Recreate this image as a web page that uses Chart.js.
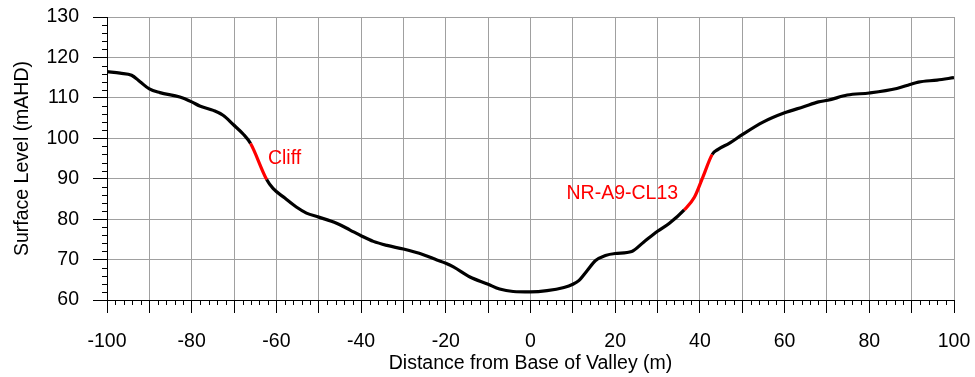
<!DOCTYPE html>
<html>
<head>
<meta charset="utf-8">
<title>Valley Cross Section</title>
<script src="https://cdn.jsdelivr.net/npm/chart.js@4/dist/chart.umd.min.js"></script>
<style>
    html, body { margin: 0; padding: 0; background: #ffffff; }
    #wrap { width: 975px; height: 377px; }
</style>
</head>
<body>
<div id="wrap"><canvas id="section"></canvas></div>
<script>
// Profil en travers : distance depuis le fond de la vallée (m) / niveau (mAHD)
const distances = [
    -100, -96.9, -94.2, -92.2, -90, -87.5, -82.8, -80, -78.1, -74.9,
    -72.6, -70.2, -67.8, -66.1, -62.3, -60.8, -58.0, -55.3, -52.9, -50,
    -45.8, -42.6, -40, -37.1, -33.9, -30, -25.3, -22.1, -20, -18.2,
    -14.3, -10, -7.3, -4.1, 0, 3.9, 7.9, 10, 11.4, 13.4,
    15.3, 17.7, 20, 23.9, 26.7, 30, 32.8, 36.3, 38.7, 40.7,
    42.9, 44.2, 47.0, 50, 54.9, 60, 64.5, 68, 70.2, 74.8,
    80, 86.5, 89.6, 91.6, 96, 100
];
const levels = [
    116.5, 116.1, 115.6, 114.0, 112.2, 111.3, 110.2, 109.0, 108.0, 106.9,
    105.7, 103.4, 101.0, 98.7, 89.8, 87.6, 85.2, 83.0, 81.5, 80.5,
    79.0, 77.3, 75.9, 74.5, 73.5, 72.6, 71.2, 69.9, 69.1, 68.2,
    65.7, 63.9, 62.7, 62.1, 62.0, 62.3, 63.1, 63.9, 64.8, 67.3,
    69.7, 71.0, 71.5, 72.0, 74.3, 77.0, 79.0, 82.3, 85.4, 90.4,
    96.0, 97.2, 98.8, 100.9, 104.0, 106.3, 107.8, 109.0, 109.4, 110.7,
    111.2, 112.3, 113.3, 113.9, 114.4, 115.0
];

// Tronçons en rouge (falaises)
const cliffRanges = [[-66.1, -62.3], [36.3, 42.9]];
const cliffLabels = ['Cliff', 'NR-A9-CL13'];
const cliffLabelX = [-62.0, 8.5];
const cliffLabelY = [94.9, 86.3];

const FONT = "'Liberation Sans', Arial, sans-serif";

// Petites graduations tous les 2 unités, vers l'extérieur
const minorTicks = {
    id: 'minorTicks',
    afterDraw(chart) {
        const ctx = chart.ctx;
        const x = chart.scales.x;
        const y = chart.scales.y;
        ctx.save();
        ctx.strokeStyle = '#000000';
        ctx.lineWidth = 1;
        ctx.beginPath();
        for (let v = x.min; v <= x.max; v += 2) {
            if (v % 10 === 0) continue;
            const px = Math.round(x.getPixelForValue(v)) + 0.5;
            ctx.moveTo(px, y.bottom);
            ctx.lineTo(px, y.bottom + 5);
        }
        for (let v = y.min; v <= y.max; v += 2) {
            if (v % 10 === 0) continue;
            const py = Math.round(y.getPixelForValue(v)) + 0.5;
            ctx.moveTo(x.left, py);
            ctx.lineTo(x.left - 5, py);
        }
        ctx.stroke();
        ctx.restore();
    }
};

// Étiquettes des falaises
const cliffText = {
    id: 'cliffText',
    afterDatasetsDraw(chart) {
        const ctx = chart.ctx;
        ctx.save();
        ctx.fillStyle = '#ff0000';
        ctx.font = '19.5px ' + FONT;
        ctx.textAlign = 'left';
        ctx.textBaseline = 'middle';
        cliffLabels.forEach((txt, i) => {
            ctx.fillText(txt,
                chart.scales.x.getPixelForValue(cliffLabelX[i]),
                chart.scales.y.getPixelForValue(cliffLabelY[i]));
        });
        ctx.restore();
    }
};

const inCliff = (a, b) => cliffRanges.some(r => a >= r[0] - 1e-6 && b <= r[1] + 1e-6);

new Chart(document.getElementById('section'), {
    type: 'line',
    data: {
        datasets: [{
            data: distances.map((d, i) => ({ x: d, y: levels[i] })),
            borderColor: '#000000',
            borderWidth: 3.2,
            pointRadius: 0,
            cubicInterpolationMode: 'monotone',
            segment: {
                borderColor: c => inCliff(c.p0.parsed.x, c.p1.parsed.x) ? '#ff0000' : '#000000'
            }
        }]
    },
    options: {
        responsive: true,
        maintainAspectRatio: false,
        animation: false,
        layout: { padding: { left: 0, right: 21, top: 17, bottom: 0 } },
        plugins: {
            legend: { display: false },
            tooltip: { enabled: false }
        },
        scales: {
            x: {
                type: 'linear',
                min: -100,
                max: 100,
                afterFit: s => {
                    s.height = 77;
                    s.paddingLeft = 0;
                    s.paddingRight = 0;
                },
                border: { color: '#000000', width: 1 },
                grid: {
                    color: '#a0a0a0',
                    tickColor: '#000000',
                    tickLength: 13
                },
                ticks: {
                    stepSize: 10,
                    autoSkip: false,
                    maxRotation: 0,
                    padding: 17,
                    color: '#000000',
                    font: { size: 19.5, family: FONT },
                    callback: v => (v % 20 === 0 ? v : '')
                },
                title: {
                    display: true,
                    text: 'Distance from Base of Valley (m)',
                    color: '#000000',
                    font: { size: 19.5, family: FONT },
                    padding: { top: 0, bottom: 2 }
                }
            },
            y: {
                min: 60,
                max: 130,
                afterFit: s => {
                    s.width = 107;
                    s.paddingTop = 0;
                    s.paddingBottom = 0;
                },
                border: { color: '#000000', width: 1 },
                grid: {
                    color: '#a0a0a0',
                    tickColor: '#000000',
                    tickLength: 14
                },
                ticks: {
                    stepSize: 10,
                    padding: 14,
                    color: '#000000',
                    font: { size: 19.5, family: FONT }
                },
                title: {
                    display: true,
                    text: 'Surface Level (mAHD)',
                    color: '#000000',
                    font: { size: 19.5, family: FONT },
                    padding: { top: 11, bottom: 0 }
                }
            }
        }
    },
    plugins: [minorTicks, cliffText]
});
</script>
</body>
</html>
